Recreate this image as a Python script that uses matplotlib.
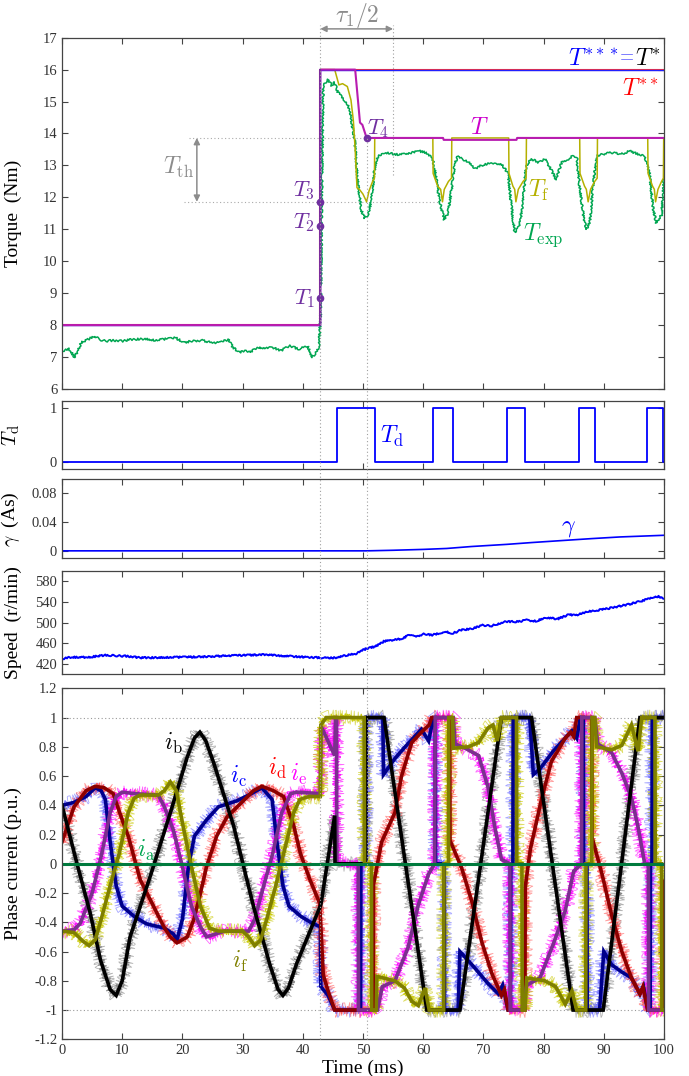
import matplotlib
matplotlib.use('Agg')
import matplotlib.pyplot as plt
import matplotlib.transforms as mtransforms
from matplotlib.lines import Line2D

plt.rcParams['font.family'] = ['Liberation Serif', 'DejaVu Serif']
plt.rcParams['mathtext.fontset'] = 'cm'
plt.rcParams['axes.unicode_minus'] = False

# ---------------- torque ----------------
t_ref = [0, 42.9, 42.9, 100]
T_ref = [8, 8, 16, 16]

t_T = [0, 42.9, 42.9, 48.7, 49.5, 49.9, 50.6, 63.3, 63.4, 75.5, 75.6, 100]
T_cmd = [8, 8, 16, 16, 14.34, 14.27, 13.86, 13.86, 13.80, 13.80, 13.86, 13.86]

t_Tf = [0, 42.9, 42.9, 45.3, 46.0, 46.6, 47.4, 48.0, 48.4, 48.7, 49.0, 49.4, 50.0, 50.6, 51.0,
        51.6, 51.9, 51.95, 61.6, 61.65, 62.4, 62.9, 63.2, 63.5, 64.2, 64.7, 64.75, 74.2, 74.25,
        74.9, 75.2, 75.4, 75.8, 76.6, 77.1, 77.15, 86.0, 86.05, 86.8, 87.1, 87.4, 87.8, 88.5,
        88.9, 88.95, 97.3, 97.35, 98.1, 98.4, 98.6, 99.0, 99.6, 99.9, 99.95, 100]
T_f = [8, 8, 16, 16, 15.52, 15.56, 15.47, 15.05, 14.4, 13.5, 12.3, 12.25, 12.1, 11.86, 12.2,
       12.5, 12.6, 13.86, 13.86, 12.75, 12.35, 12.25, 11.86, 12.25, 12.5, 12.6, 13.86, 13.86, 12.75,
       12.35, 12.25, 11.86, 12.25, 12.5, 12.6, 13.86, 13.86, 12.75, 12.35, 12.25, 11.86, 12.25, 12.5,
       12.6, 13.86, 13.86, 12.75, 12.35, 12.25, 11.86, 12.25, 12.5, 12.6, 13.86, 13.86]

t_exp = [0, 1.2, 2.1, 2.6, 3.2, 4.3, 5.4, 6.2, 7.2, 8.5, 10.1, 11.6, 13.8, 15.5, 17.0, 18.9, 20.3,
         21.5, 23.3, 24.8, 26.2, 27.6, 28.4, 29.5, 30.4, 31.3, 32.0, 32.7, 34.0, 35.0, 36.4, 37.2,
         37.9, 39.3, 40.8, 41.5, 42.2, 42.7, 43.0, 43.2, 43.4, 43.8, 44.2, 44.8, 45.3, 45.8, 46.4,
         46.9, 47.5, 48.0, 48.6, 49.1, 49.7, 50.3, 50.8, 51.4, 51.9, 52.5, 53.8, 56.0, 58.2, 59.3,
         60.5, 61.6, 62.2, 62.7, 63.5, 64.1, 64.6, 65.2, 65.7, 66.5, 67.5, 68.6, 69.7, 70.8, 73.0,
         74.1, 74.7, 75.2, 76.0, 76.6, 77.1, 78.0, 79.1, 80.2, 81.3, 82.1, 83.0, 84.1, 84.9, 85.5,
         86.0, 86.6, 87.1, 87.7, 88.2, 88.8, 89.9, 91.3, 92.9, 94.3, 95.7, 96.8, 97.6, 98.2, 98.7,
         99.6, 100]
T_exp = [7.19, 7.25, 6.98, 7.2, 7.45, 7.55, 7.66, 7.55, 7.5, 7.52, 7.5, 7.55, 7.57, 7.52, 7.56,
         7.6, 7.45, 7.5, 7.52, 7.45, 7.45, 7.55, 7.3, 7.14, 7.2, 7.14, 7.25, 7.3, 7.28, 7.3, 7.2,
         7.3, 7.35, 7.25, 7.35, 6.98, 7.14, 7.3, 8.5, 13.0, 15.47, 15.6, 15.68, 15.5, 15.6, 15.3,
         15.15, 15.0, 14.9, 14.5, 13.8, 12.55, 11.6, 11.35, 11.45, 11.9, 12.85, 13.3, 13.4, 13.33,
         13.4, 13.45, 13.4, 13.2, 12.55, 11.9, 11.3, 11.5, 12.1, 13.0, 13.3, 13.2, 13.1, 12.9, 13.0,
         13.05, 13.05, 12.75, 11.65, 10.9, 11.1, 11.9, 13.0, 13.2, 13.1, 13.2, 12.85, 12.55, 13.1,
         13.2, 13.3, 13.25, 12.3, 11.45, 11.0, 11.25, 12.35, 13.3, 13.35, 13.4, 13.35, 13.45, 13.35,
         13.3, 12.75, 11.65, 11.2, 11.45, 12.65]

t_marks = [42.9, 42.9, 42.9, 50.6]
T_marks = [8.84, 11.11, 11.86, 13.86]
mark_names = [r'$T_1$', r'$T_2$', r'$T_3$', r'$T_4$']
T_hi, T_lo = 13.86, 11.86
t_step, t_T4, t_tau = 42.9, 50.6, 55.0

# ---------------- Td, gamma, speed ----------------
td_edges = [0, 45.6, 52.0, 61.7, 64.9, 74.0, 76.9, 85.8, 88.6, 97.1, 99.9, 100]
td_vals = [0, 1, 0, 1, 0, 1, 0, 1, 0, 1, 0, 0]

t_gamma = [0, 50.6, 55.0, 60.0, 63.9, 68.0, 73.9, 78.0, 83.8, 88.0, 92.7, 100]
gamma = [0, 0, 0.0008, 0.002, 0.0033, 0.006, 0.009, 0.0115, 0.0147, 0.017, 0.0193, 0.0216]

t_speed = [0, 1.4, 4.3, 7.2, 10.9, 13.0, 18.9, 23.3, 27.6, 33.5, 36.4, 40.8, 43.7, 45.5, 47.3,
           48.8, 50.6, 52.1, 53.5, 55.4, 56.4, 57.5, 59.0, 60.1, 61.5, 63.7, 64.8, 66.3, 68.1,
           69.9, 71.4, 73.6, 75.8, 77.2, 78.7, 80.5, 82.3, 84.2, 85.3, 87.5, 89.6, 91.8, 94.0,
           96.2, 99.1, 100]
speed = [430, 433, 433, 437, 435, 432, 433, 434, 436, 438, 436, 433, 432, 432, 437, 440, 450,
         454, 464, 467, 469, 475, 474, 478, 476, 483, 479, 486, 488, 495, 494, 502, 502, 505, 503,
         510, 507, 516, 514, 522, 525, 530, 535, 542, 551, 546]

# ---------------- phase currents (p.u.) ----------------
t_ia = [0, 100]
i_a = [0, 0]

t_ib = [0, 2.5, 4.7, 6.4, 8.0, 9.0, 10.0, 11.3, 14.7, 18.0, 20.8, 22.0, 22.9, 23.9, 25.2, 28.5,
        31.8, 34.6, 35.9, 36.7, 37.6, 39.0, 41.8, 43.0, 45.3, 45.35, 50.4, 50.45, 53.5, 60.6,
        66.1, 73.0, 78.0, 84.9, 89.9, 96.0, 100]
i_b = [0.40, 0.0, -0.34, -0.66, -0.86, -0.90, -0.80, -0.50, -0.08, 0.35, 0.73, 0.86, 0.90, 0.84,
       0.69, 0.26, -0.29, -0.70, -0.86, -0.90, -0.85, -0.68, -0.40, -0.28, 0.33, 0.0, 0.0, 1.0,
       1.0, -1.0, -1.0, 1.0, 1.0, -1.0, -1.0, 1.0, 1.0]

t_ic = [0, 2.0, 4.0, 5.5, 6.5, 7.2, 8.0, 9.0, 10.0, 12.0, 14.0, 17.0, 18.5, 19.1, 20.0, 21.0, 22.0,
        24.0, 26.0, 29.0, 31.0, 33.2, 34.9, 35.7, 36.7, 37.7, 39.7, 41.7, 42.9, 43.0, 44.2, 45.3,
        49.6, 49.65, 50.5, 50.55, 53.3, 53.4, 55.3, 57.0, 59.7, 60.9, 61.7, 62.0, 62.05, 63.5,
        63.55, 65.8, 66.1, 68.1, 70.8, 72.5, 73.2, 74.1, 74.5, 74.55, 74.9, 74.95, 77.7, 78.3,
        79.4, 81.6, 83.6, 84.7, 85.5, 86.1, 86.6, 86.65, 87.2, 87.25, 89.3, 90.0, 91.3, 93.0,
        94.6, 96.0, 96.6, 97.3, 97.7, 97.75, 98.0, 98.05, 100]
i_c = [0.40, 0.42, 0.46, 0.52, 0.50, 0.44, 0.15, -0.15, -0.29, -0.36, -0.41, -0.44, -0.48, -0.52,
       -0.38, -0.02, 0.19, 0.30, 0.39, 0.43, 0.47, 0.52, 0.44, 0.15, -0.15, -0.29, -0.36, -0.41,
       -0.43, -0.84, -0.90, -1.0, -1.0, 0.0, 0.0, 1.0, 1.0, 0.61, 0.72, 0.80, 0.92, 0.84, 1.0,
       1.0, 0.0, 0.0, -1.0, -1.0, -0.60, -0.69, -0.82, -0.89, -0.83, -1.0, -1.0, 0.0, 0.0, 1.0,
       1.0, 0.61, 0.65, 0.77, 0.86, 0.91, 0.86, 1.0, 1.0, 0.0, 0.0, -1.0, -1.0, -0.60, -0.69,
       -0.74, -0.78, -0.89, -0.84, -1.0, -1.0, 0.0, 0.0, 1.0, 1.0]

t_id = [0, 2.0, 4.0, 5.5, 7.0, 8.5, 10.0, 11.0, 12.0, 13.0, 15.2, 16.9, 18.0, 19.1, 20.8, 21.9,
        23.0, 24.0, 25.7, 27.4, 29.6, 31.8, 33.2, 35.1, 36.8, 38.5, 39.6, 41.2, 42.8, 43.4, 44.2,
        45.3, 51.7, 51.75, 53.1, 55.3, 56.4, 58.1, 59.7, 61.0, 61.4, 64.4, 64.45, 66.4, 68.1,
        69.7, 71.4, 73.0, 73.5, 74.1, 76.9, 76.95, 77.8, 79.7, 81.3, 83.6, 84.5, 85.0, 85.5,
        88.0, 88.05, 89.7, 91.3, 93.0, 94.6, 96.0, 96.5, 97.3, 99.8, 99.85, 100]
i_d = [0.15, 0.39, 0.50, 0.53, 0.52, 0.48, 0.30, 0.19, 0.04, -0.11, -0.29, -0.43, -0.50, -0.54,
       -0.50, -0.38, -0.20, -0.02, 0.19, 0.32, 0.41, 0.50, 0.53, 0.50, 0.46, 0.26, 0.07, -0.11,
       -0.27, -0.76, -0.87, -1.0, -1.0, -0.14, 0.15, 0.35, 0.60, 0.83, 0.90, 0.95, 1.0, 1.0, 0.16,
       -0.03, -0.26, -0.53, -0.75, -0.90, -0.86, -1.0, -1.0, -0.16, 0.10, 0.45, 0.70, 0.86, 0.90,
       0.87, 1.0, 1.0, 0.18, -0.07, -0.35, -0.60, -0.78, -0.89, -0.84, -1.0, -1.0, -0.15, -0.12]

t_ie = [0, 2.0, 3.0, 5.0, 6.5, 8.0, 9.0, 10.0, 12.0, 16.0, 17.0, 18.5, 20.0, 21.5, 23.0, 24.0,
        25.5, 27.0, 31.0, 32.0, 33.5, 35.0, 36.5, 38.0, 39.0, 42.9, 43.05, 45.3, 45.45, 45.6,
        45.65, 49.2, 49.25, 52.4, 53.2, 55.3, 57.5, 59.2, 60.9, 61.9, 62.0, 65.0, 65.3, 67.0,
        69.2, 70.8, 71.9, 73.0, 74.4, 74.45, 76.4, 77.2, 79.4, 81.6, 83.6, 85.0, 86.3, 86.35,
        88.5, 89.0, 91.3, 93.0, 94.6, 95.7, 96.8, 97.4, 97.45, 100]
i_e = [-0.46, -0.45, -0.41, -0.20, 0.05, 0.35, 0.46, 0.49, 0.48, 0.47, 0.39, 0.23, -0.02, -0.29,
       -0.43, -0.50, -0.48, -0.46, -0.46, -0.38, -0.15, 0.07, 0.35, 0.48, 0.49, 0.48, 0.94, 0.74,
       1.0, 1.0, 0.0, 0.0, -1.0, -1.0, -0.84, -0.80, -0.57, -0.28, -0.07, 0.0, 1.0, 1.0, 0.82,
       0.79, 0.74, 0.52, 0.25, 0.03, 0.0, -1.0, -1.0, -0.83, -0.78, -0.55, -0.32, -0.05, 0.0, 1.0,
       1.0, 0.82, 0.76, 0.62, 0.45, 0.25, 0.0, 0.0, -1.0, -1.0]

t_if = [0, 2.0, 3.5, 4.5, 5.5, 6.5, 8.0, 9.5, 11.0, 12.0, 13.0, 16.0, 17.0, 18.0, 19.0, 20.0, 21.5,
        23.0, 24.5, 26.0, 30.0, 31.0, 32.0, 33.0, 34.0, 35.5, 37.0, 38.5, 39.5, 41.0, 42.9, 43.0,
        43.9, 50.2, 50.25, 51.4, 51.45, 52.2, 52.3, 55.3, 56.9, 58.1, 59.2, 60.3, 61.0, 63.4,
        63.45, 64.2, 64.25, 64.9, 65.0, 67.5, 69.2, 70.8, 71.6, 72.3, 73.0, 75.5, 75.55, 76.4,
        76.45, 76.9, 77.2, 80.2, 82.0, 83.6, 84.7, 85.5, 87.0, 87.05, 88.0, 88.05, 88.5, 88.8,
        91.3, 93.0, 94.6, 95.7, 96.3, 98.5, 98.55, 99.6, 99.65, 100]
i_f = [-0.46, -0.47, -0.53, -0.56, -0.52, -0.38, -0.15, 0.07, 0.35, 0.45, 0.47, 0.47, 0.50, 0.56,
       0.50, 0.28, -0.02, -0.29, -0.44, -0.46, -0.46, -0.50, -0.56, -0.52, -0.38, -0.15, 0.10,
       0.35, 0.44, 0.46, 0.46, 0.95, 1.0, 1.0, 0.0, 0.0, -1.0, -1.0, -0.77, -0.80, -0.85, -0.94,
       -0.97, -0.85, -1.0, -1.0, 0.0, 0.0, 1.0, 1.0, 0.79, 0.80, 0.83, 0.93, 0.95, 0.84, 1.0, 1.0,
       0.0, 0.0, -1.0, -1.0, -0.78, -0.80, -0.84, -0.96, -0.87, -1.0, -1.0, 0.0, 0.0, 1.0, 1.0,
       0.80, 0.78, 0.81, 0.95, 0.77, 1.0, 1.0, 0.0, 0.0, -1.0, -1.0]

phase_ticks = [-1.2, -1.0, -0.8, -0.6, -0.4, -0.2, 0, 0.2, 0.4, 0.6, 0.8, 1.0, 1.2]
phase_ticklabels = ['-1.2', '-1', '-0.8', '-0.6', '-0.4', '-0.2', '0', '0.2', '0.4', '0.6',
                    '0.8', '1', '1.2']

GRAY = '#8c8c8c'
DOT = (0, (1, 2.2))


def style_axes(ax, bottom_labels=False):
    ax.set_xlim(0, 100)
    ax.set_xticks(range(0, 101, 10))
    ax.tick_params(direction='in', top=True, right=True, length=4, width=0.8,
                   labelsize=10.5, labelcolor='#333333', color='#444444',
                   labelbottom=bottom_labels)
    for sp in ax.spines.values():
        sp.set_color('#444444')
        sp.set_linewidth(0.9)
    ax.yaxis.set_label_coords(-0.066, 0.5)


fig = plt.figure(figsize=(6.89, 10.76), dpi=100)
L, W = 0.090, 0.8737
ax_tq = fig.add_axes([L, 0.6385, W, 0.3265])
ax_td = fig.add_axes([L, 0.5641, W, 0.0632])
ax_g = fig.add_axes([L, 0.4811, W, 0.0737])
ax_sp = fig.add_axes([L, 0.3733, W, 0.0960])
ax_ph = fig.add_axes([L, 0.0341, W, 0.3262])

# torque panel
ax = ax_tq
style_axes(ax)
ax.set_ylim(6, 17)
ax.set_yticks(range(6, 18))
ax.set_ylabel('Torque  (Nm)', fontsize=14)
ax.plot([21.1, t_T4], [T_hi, T_hi], color='#aaaaaa', lw=0.8, ls=DOT)
ax.plot([20.3, 62.7], [T_lo, T_lo], color='#aaaaaa', lw=0.8, ls=DOT)
ax.plot(t_exp, T_exp, color='#00a651', lw=1.1)[0].set_sketch_params(1.0, 2.0, 4.0)
ax.plot(t_Tf, T_f, color='#b5b000', lw=1.1)
ax.plot(t_ref, T_ref, color='#ff3030', lw=1.5)
ax.plot(t_ref, T_ref, color='#2020ff', lw=1.0)
ax.plot(t_T, T_cmd, color='#b81cb0', lw=1.5)
ax.plot([t_step, t_step], [8, 16], color='#7a2a9e', lw=1.4)
ax.plot(t_marks, T_marks, ls='none', marker='o', ms=4.5, color='#7030a0', zorder=5)
label_dy = [-0.2, -0.09, 0.16, 0.12]
for k, (tm, Tm, name) in enumerate(zip(t_marks, T_marks, mark_names)):
    if k < 3:
        ax.text(tm - 0.8, Tm + label_dy[k], name, ha='right', va='baseline',
                color='#7030a0', fontsize=16)
    else:
        ax.text(tm + 0.1, Tm + label_dy[k], name, ha='left', va='baseline',
                color='#7030a0', fontsize=16)

ax.annotate('', xy=(22.4, T_hi), xytext=(22.4, T_lo),
            arrowprops=dict(arrowstyle='<|-|>', color=GRAY, lw=1.1, mutation_scale=9,
                            shrinkA=0, shrinkB=0))
ax.text(21.9, 12.72, r'$T_{\mathrm{th}}$', ha='right', va='baseline', color=GRAY, fontsize=17)

xt = ax.get_xaxis_transform()
ax.annotate('', xy=(t_step, 1.025), xytext=(t_tau, 1.025), xycoords=xt, textcoords=xt,
            arrowprops=dict(arrowstyle='<|-|>', color=GRAY, lw=1.1, mutation_scale=9,
                            shrinkA=0, shrinkB=0), annotation_clip=False)
ax.text(49.0, 1.063, r'$\tau_1/2$', transform=xt, ha='center', va='center', color=GRAY,
        fontsize=17, clip_on=False)

y_lab = 16.15
t_star = ax.text(99.4, y_lab, r'$T^{*}$', ha='right', va='baseline', color='black', fontsize=17)
t_eq = ax.annotate('=', xy=(0, y_lab), xycoords=(t_star, 'data'),
                   xytext=(-0.5, 0), textcoords='offset points',
                   ha='right', va='baseline', color='#8080ff', fontsize=18)
ax.annotate(r'$T^{***}$', xy=(0, y_lab), xycoords=(t_eq, 'data'),
            xytext=(-0.5, 0), textcoords='offset points',
            ha='right', va='baseline', color='#0000ff', fontsize=17)
ax.text(99.1, 15.2, r'$T^{**}$', ha='right', va='baseline', color='#ff0000', fontsize=17)
ax.text(69.4, 13.98, r'$T$', ha='center', va='baseline', color='#cc00cc', fontsize=17)
ax.text(77.4, 12.0, r'$T_{\mathrm{f}}$', ha='left', va='baseline', color='#b5b000', fontsize=17)
ax.text(76.6, 10.68, r'$T_{\mathrm{exp}}$', ha='left', va='baseline', color='#00a651', fontsize=17)

# Td panel
ax = ax_td
style_axes(ax)
ax.set_ylim(-0.124, 1.135)
ax.set_yticks([0, 1])
ax.set_yticklabels(['0', '1'])
ax.set_ylabel(r'$T_{\mathrm{d}}$', fontsize=15)
ax.plot(td_edges, td_vals, drawstyle='steps-post', color='#0000ff', lw=1.3)
ax.text(52.8, 0.36, r'$T_{\mathrm{d}}$', ha='left', va='baseline', color='#0000ff', fontsize=17)

# gamma panel
ax = ax_g
style_axes(ax)
ax.set_ylim(-0.0104, 0.0997)
ax.set_yticks([0, 0.04, 0.08])
ax.set_yticklabels(['0', '0.04', '0.08'])
ax.set_ylabel(r'$\gamma$  (As)', fontsize=14)
ax.plot(t_gamma, gamma, color='#0000ff', lw=1.2)
ax.text(84.1, 0.031, r'$\gamma$', ha='center', va='center', color='#0000ff', fontsize=17)

# speed panel
ax = ax_sp
style_axes(ax)
ax.set_ylim(400, 600)
ax.set_yticks([420, 460, 500, 540, 580])
ax.set_ylabel('Speed  (r/min)', fontsize=14)
ax.plot(t_speed, speed, color='#0000ff', lw=1.4)[0].set_sketch_params(0.8, 2.0, 4.0)

# phase current panel
ax = ax_ph
style_axes(ax, bottom_labels=True)
ax.set_ylim(-1.2, 1.2)
ax.set_yticks(phase_ticks)
ax.set_yticklabels(phase_ticklabels)
ax.set_ylabel('Phase current (p.u.)', fontsize=14)
ax.set_xlabel('Time (ms)', fontsize=14, labelpad=2)
ax.axhline(1, color='#999999', lw=0.8, ls=DOT)
ax.axhline(-1, color='#999999', lw=0.8, ls=DOT)

phases = [
    (t_ib, i_b, '#808080', '#000000'),
    (t_ic, i_c, '#6b6bff', '#00008b'),
    (t_id, i_d, '#ff5a5a', '#8b0000'),
    (t_ie, i_e, '#ff00ff', '#7b2f8e'),
    (t_if, i_f, '#c8c800', '#7f7f00'),
]
# measured currents: light, noisy traces underneath
for tt, ii, light, dark in phases:
    wide, = ax.plot(tt, ii, color=light, lw=0.6, alpha=0.6)
    wide.set_sketch_params(7.5, 0.9, 6.0)
    tight, = ax.plot(tt, ii, color=light, lw=0.9, alpha=0.9)
    tight.set_sketch_params(3.8, 1.3, 5.0)
# reference currents: thick dark traces
for tt, ii, light, dark in [phases[1], phases[2], phases[3], phases[0], phases[4]]:
    ax.plot(tt, ii, color=dark, lw=2.6, solid_joinstyle='miter')
ax.plot(t_ia, i_a, color='#007a3d', lw=2.2)

phase_labels = [
    (18.5, 0.82, r'$i_{\mathrm{b}}$', 'black'),
    (29.3, 0.60, r'$i_{\mathrm{c}}$', '#0000ff'),
    (35.7, 0.65, r'$i_{\mathrm{d}}$', '#ff0000'),
    (39.3, 0.61, r'$i_{\mathrm{e}}$', '#ff00ff'),
    (14.0, 0.09, r'$i_{\mathrm{a}}$', '#00a651'),
    (29.6, -0.67, r'$i_{\mathrm{f}}$', '#808000'),
]
for x, y, s, c in phase_labels:
    ax.text(x, y, s, ha='center', va='center', color=c, fontsize=17, zorder=10)

# dotted time markers running through all panels
to_fig = fig.transFigure.inverted()
blend = mtransforms.blended_transform_factory(ax_tq.transData, fig.transFigure)
y_bottom = ax_ph.get_position().y0
y_T4 = to_fig.transform(ax_tq.transData.transform((t_T4, T_hi)))[1]
y_tau_end = to_fig.transform(ax_tq.transData.transform((t_tau, 12.71)))[1]
y_top = ax_tq.get_position().y1 + 0.012
for tx, y0, y1 in [(t_step, y_bottom, y_top), (t_T4, y_bottom, y_T4), (t_tau, y_tau_end, y_top)]:
    fig.add_artist(Line2D([tx, tx], [y0, y1], transform=blend, color='#a0a0a0', lw=0.8,
                          ls=DOT, zorder=2))

fig.savefig('out.png', dpi=100)
